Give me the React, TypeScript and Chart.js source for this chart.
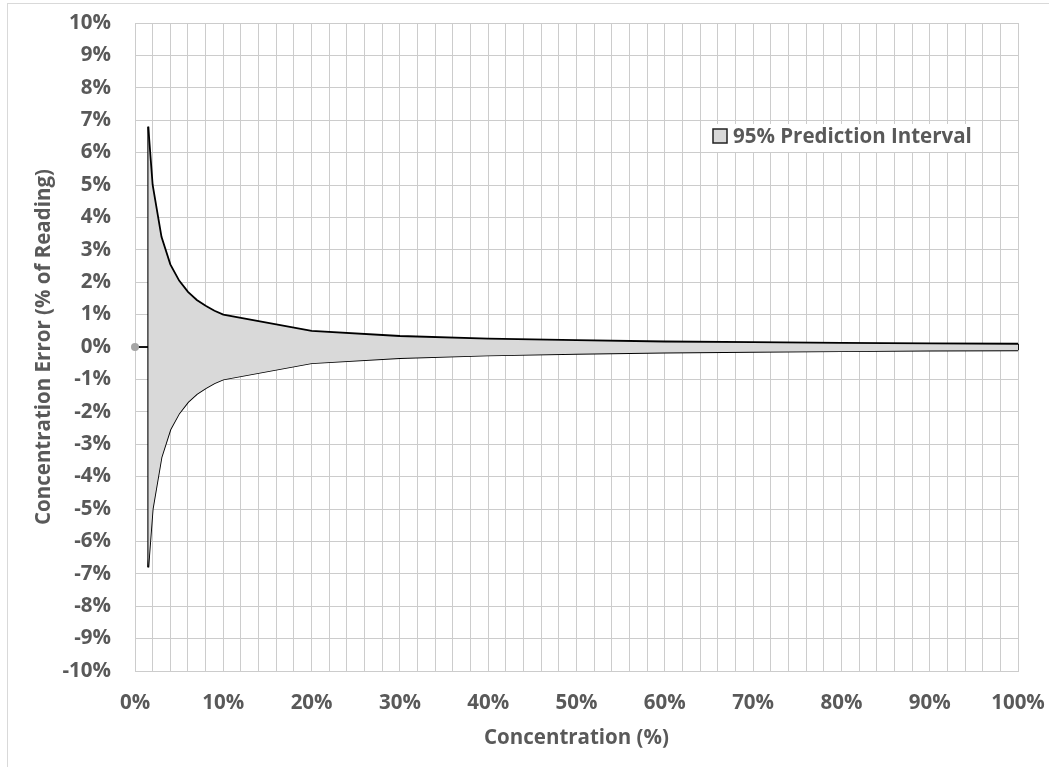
import React, { useEffect, useRef } from "react";
import { Chart, registerables } from "chart.js";

Chart.register(...registerables);

// Concentration (%) at which the prediction interval is evaluated
const concentration = [1.5, 2, 3, 4, 5, 6, 7, 8, 9, 10, 20, 30, 40, 50, 60, 70, 80, 90, 100];
// Upper bound of the 95% prediction interval (% of reading)
const upperError = [6.8, 5.0, 3.4, 2.55, 2.05, 1.7, 1.45, 1.27, 1.12, 1.0, 0.5, 0.34, 0.26, 0.21, 0.17, 0.15, 0.13, 0.11, 0.1];
// Lower bound of the 95% prediction interval (% of reading)
const lowerError = [-6.8, -5.0, -3.4, -2.55, -2.05, -1.7, -1.45, -1.27, -1.12, -1.0, -0.5, -0.34, -0.26, -0.21, -0.17, -0.15, -0.13, -0.11, -0.1];
// Origin marker
const originPoint = { x: 0, y: 0 };

const legendLabel = "95% Prediction Interval";
const xTitle = "Concentration (%)";
const yTitle = "Concentration Error (% of Reading)";

const FONT = "'Open Sans', sans-serif";
const FSIZE = 20.5;
const TEXT = "#595959";
const GRID = "#cccccc";
const FILL = "#d9d9d9";

const legendPlugin = {
  id: "insideLegend",
  afterDraw(chart: any) {
    const { ctx, chartArea } = chart;
    const left = chartArea.right - 317;
    const top = chartArea.top + 101;
    ctx.save();
    ctx.fillStyle = "#ffffff";
    ctx.fillRect(left, top, 281, 28);
    ctx.fillStyle = FILL;
    ctx.fillRect(left + 12, top + 5, 14, 14);
    ctx.strokeStyle = "#222222";
    ctx.lineWidth = 1.5;
    ctx.strokeRect(left + 12, top + 5, 14, 14);
    ctx.fillStyle = TEXT;
    ctx.font = `bold ${FSIZE}px ${FONT}`;
    ctx.textAlign = "left";
    ctx.textBaseline = "alphabetic";
    ctx.fillText(legendLabel, left + 32, top + 19);
    ctx.restore();
  },
};

export default function App() {
  const ref = useRef<HTMLCanvasElement>(null);

  useEffect(() => {
    document.body.style.margin = "0";
    const upper = concentration.map((x, i) => ({ x, y: upperError[i] }));
    const lower = concentration.map((x, i) => ({ x, y: lowerError[i] }));
    const last = concentration.length - 1;
    const leftEdge = [
      { x: concentration[0], y: upperError[0] },
      { x: concentration[0], y: lowerError[0] },
    ];
    const rightEdge = [
      { x: concentration[last], y: upperError[last] },
      { x: concentration[last], y: lowerError[last] },
    ];
    const originLine = [originPoint, { x: concentration[0], y: 0 }];

    const tickFont = { family: FONT, size: FSIZE, weight: "bold" as const };

    const chart = new Chart(ref.current!, {
      type: "line",
      data: {
        datasets: [
          {
            label: legendLabel,
            data: upper,
            borderColor: "#000000",
            borderWidth: 1.8,
            backgroundColor: FILL,
            fill: "+1",
            pointRadius: 0,
            tension: 0,
          },
          {
            label: "lower",
            data: lower,
            borderColor: "#000000",
            borderWidth: 1.8,
            fill: false,
            pointRadius: 0,
            tension: 0,
          },
          {
            label: "leftEdge",
            data: leftEdge,
            borderColor: "#000000",
            borderWidth: 1.8,
            fill: false,
            pointRadius: 0,
          },
          {
            label: "rightEdge",
            data: rightEdge,
            borderColor: "#000000",
            borderWidth: 1.8,
            fill: false,
            pointRadius: 0,
            clip: false,
          },
          {
            label: "origin",
            data: originLine,
            borderColor: "#000000",
            borderWidth: 1.8,
            fill: false,
            pointRadius: [4, 0],
            pointBackgroundColor: "#a6a6a6",
            pointBorderWidth: 0,
            clip: false,
          },
        ],
      },
      options: {
        responsive: false,
        animation: false,
        layout: { padding: { top: 23, right: 31, bottom: 0, left: 0 } },
        plugins: {
          legend: { display: false },
          tooltip: { enabled: false },
        },
        scales: {
          x: {
            type: "linear",
            min: 0,
            max: 100,
            afterFit: (s: any) => {
              s.height = 96;
              s.paddingLeft = 0;
              s.paddingRight = 0;
            },
            ticks: {
              stepSize: 2,
              autoSkip: false,
              maxRotation: 0,
              padding: 20,
              color: TEXT,
              font: tickFont,
              callback: (v: any) => (Number(v) % 10 === 0 ? `${v}%` : ""),
            },
            grid: { color: GRID, drawTicks: false, lineWidth: 1 },
            border: { color: GRID },
            title: {
              display: true,
              text: xTitle,
              color: TEXT,
              font: tickFont,
              padding: { top: 0, bottom: 17 },
            },
          },
          y: {
            type: "linear",
            min: -10,
            max: 10,
            afterFit: (s: any) => {
              s.width = 135;
              s.paddingTop = 0;
              s.paddingBottom = 0;
            },
            ticks: {
              stepSize: 1,
              padding: 24,
              color: TEXT,
              font: tickFont,
              callback: (v: any) => `${v}%`,
            },
            grid: { color: GRID, drawTicks: false, lineWidth: 1 },
            border: { color: GRID },
            title: {
              display: true,
              text: yTitle,
              color: TEXT,
              font: tickFont,
              padding: { top: 32, bottom: 0 },
            },
          },
        },
      },
      plugins: [legendPlugin],
    });
    return () => chart.destroy();
  }, []);

  return (
    <div style={{ position: "fixed", left: 0, top: 0, width: 1049, height: 767, background: "#fff" }}>
      <div
        style={{
          position: "absolute",
          left: 7,
          top: 3,
          width: 1060,
          height: 780,
          border: "1px solid #d9d9d9",
        }}
      />
      <canvas ref={ref} width={1049} height={767} style={{ position: "absolute", left: 0, top: 0 }} />
    </div>
  );
}
